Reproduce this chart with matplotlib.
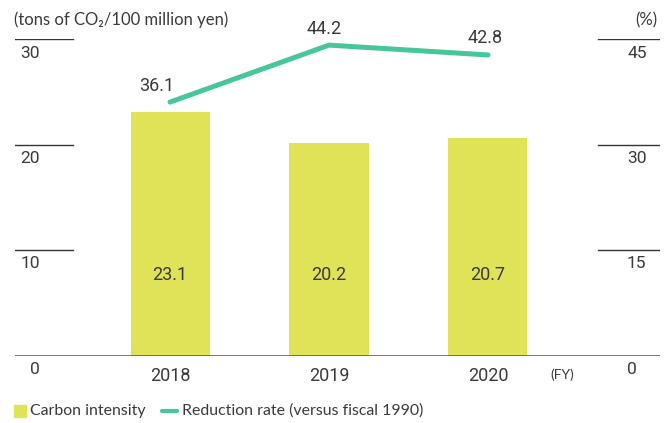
import matplotlib
matplotlib.use("Agg")
import matplotlib.pyplot as plt
from matplotlib.patches import Rectangle
from matplotlib.lines import Line2D

# data
years = ["2018", "2019", "2020"]
carbon_intensity = [23.1, 20.2, 20.7]      # tons of CO2 / 100 million yen
reduction_rate = [36.1, 44.2, 42.8]        # % versus fiscal 1990
left_ticks = [0, 10, 20, 30]
right_ticks = [0, 15, 30, 45]

BAR = "#e0e357"
LINE = "#47c59c"
TXT = "#3a3a3a"
NUM_FONT = ["Roboto", "DejaVu Sans"]
LBL_FONT = ["Lato", "DejaVu Sans"]

W, H = 672, 423
fig = plt.figure(figsize=(W / 100, H / 100), dpi=100)
ax = fig.add_axes([15 / W, (H - 356) / H, 645 / W, (356 - 39.5) / H])
ax.set_xlim(-0.975, 3.082)
ax.set_ylim(left_ticks[0], left_ticks[-1])
ax.axis("off")

x = list(range(len(years)))
ax.bar(x, carbon_intensity, width=0.497, color=BAR, zorder=2)

# baseline and the short tick rules on both sides
ax.axhline(0, color="#555555", lw=1.1, zorder=3)
for v in left_ticks[1:]:
    ax.axhline(v, xmin=0, xmax=58 / 645, color="#333333", lw=1)

ax2 = ax.twinx()
ax2.set_ylim(right_ticks[0], right_ticks[-1])
ax2.axis("off")
for v in right_ticks[1:]:
    ax2.axhline(v, xmin=583 / 645, xmax=1, color="#333333", lw=1)

# axis numbers
for v in left_ticks:
    ax.annotate(str(v), xy=(40 / W, v), xycoords=("figure fraction", "data"),
                xytext=(0, -13.5), textcoords="offset pixels", ha="right", va="center",
                fontsize=12.5, color=TXT, family=NUM_FONT)
for v in right_ticks:
    ax2.annotate(str(v), xy=(627 / W, v), xycoords=("figure fraction", "data"),
                 xytext=(0, -13.5), textcoords="offset pixels", ha="left", va="center",
                 fontsize=12.5, color=TXT, family=NUM_FONT)

# year labels
for xi, y in zip(x, years):
    ax.annotate(y, xy=(xi, 0), xytext=(0, -19.5), textcoords="offset pixels",
                ha="center", va="center", fontsize=13, color=TXT, family=NUM_FONT)
fig.text(562 / W, (H - 375) / H, "(FY)", ha="center", va="center",
         fontsize=10, color=TXT, family=LBL_FONT)

# bar values
for xi, v in zip(x, carbon_intensity):
    ax.text(xi, 7.7, f"{v:.1f}", ha="center", va="center", fontsize=13,
            color=TXT, family=NUM_FONT, zorder=4)

# reduction rate line
ax2.plot(x, reduction_rate, color=LINE, lw=3.6, solid_capstyle="round", zorder=5)
offsets = [(-13, 16), (-5, 16), (-3, 17)]
for xi, v, off in zip(x, reduction_rate, offsets):
    ax2.annotate(f"{v:.1f}", xy=(xi, v), xytext=off, textcoords="offset pixels",
                 ha="center", va="center", fontsize=13, color=TXT, family=NUM_FONT)

# unit captions
fig.text(14 / W, (H - 20) / H, "(tons of CO₂/100 million yen)", ha="left", va="center",
         fontsize=12, color=TXT, family=LBL_FONT)
fig.text(657 / W, (H - 20) / H, "(%)", ha="right", va="center",
         fontsize=12, color=TXT, family=LBL_FONT)

# legend
fig.add_artist(Rectangle((14 / W, (H - 417) / H), 12 / W, 12 / H,
                         transform=fig.transFigure, color=BAR))
fig.text(30 / W, (H - 411) / H, "Carbon intensity", ha="left", va="center",
         fontsize=11.4, color=TXT, family=LBL_FONT)
fig.add_artist(Line2D([162 / W, 177 / W], [(H - 411) / H] * 2,
                      transform=fig.transFigure, color=LINE, lw=3,
                      solid_capstyle="round"))
fig.text(182 / W, (H - 411) / H, "Reduction rate (versus fiscal 1990)", ha="left",
         va="center", fontsize=11.4, color=TXT, family=LBL_FONT)

fig.savefig("out.png", dpi=100)
